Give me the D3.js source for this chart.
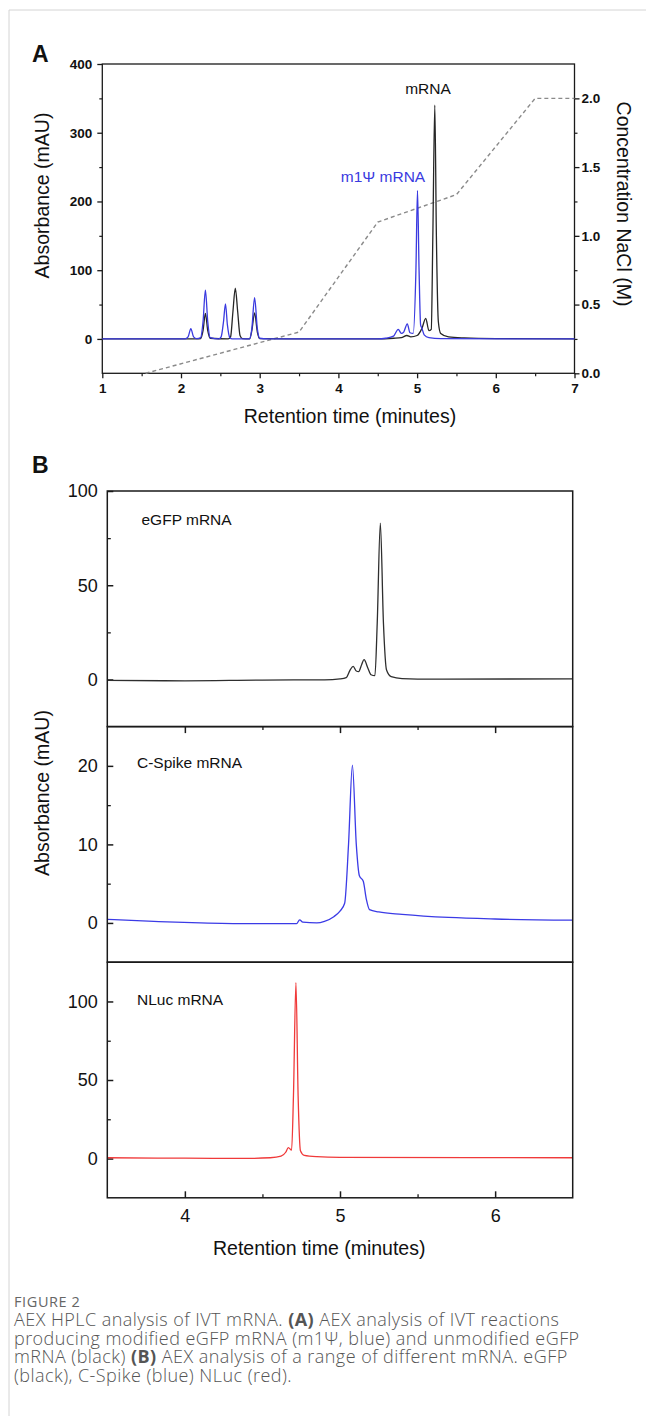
<!DOCTYPE html>
<html>
<head>
  <meta charset="utf-8" />
  <title>AEX HPLC analysis of IVT mRNA</title>
  <script src="https://cdn.jsdelivr.net/npm/d3@7"></script>
  <style>
    body { margin: 0; background: white; }
    svg { display: block; }
    .chart text { font-family: "Liberation Sans", Arial, sans-serif; fill: #111; }
    .caption text { font-family: "Open Sans", "Noto Sans", sans-serif; fill: #555; }
  </style>
</head>
<body>
  <script>
    // ---- panel A : retention time (min), absorbance (mAU) ----
    var unmodTrace = [[1,0],[2.2,0],[2.25,0.5],[2.28,12],[2.31,37],[2.34,12],[2.37,1],[2.6,0],[2.63,3],[2.66,40],[2.69,74],[2.72,40],[2.75,5],[2.78,0.5],[2.87,0],[2.9,12],[2.935,38],[2.97,10],[3.0,0.5],[3.5,0],[4.5,0],[4.7,1],[4.8,2],[4.87,5],[4.92,3],[5.0,5],[5.06,15],[5.11,30],[5.15,12],[5.18,14],[5.2,150],[5.225,340],[5.245,150],[5.27,25],[5.3,8],[5.4,3],[5.6,1.5],[6,0.5],[7,0]];
    var m1psiTrace = [[1,0],[2.05,0],[2.09,3],[2.125,15],[2.16,3],[2.2,0.5],[2.25,2],[2.28,25],[2.31,71],[2.34,25],[2.37,2],[2.48,0],[2.51,3],[2.54,25],[2.565,51],[2.59,20],[2.62,2],[2.65,0],[2.87,0],[2.9,15],[2.935,60],[2.97,15],[3.0,1],[3.1,0],[4.5,0],[4.6,1],[4.7,4],[4.76,14],[4.8,8],[4.83,10],[4.875,22],[4.91,9],[4.95,8],[4.985,100],[5.005,216],[5.025,100],[5.045,20],[5.06,16],[5.09,6],[5.15,2],[5.3,0.5],[7,0]];
    // salt gradient, NaCl (M)
    var naclGradient = [[1.55,0],[3.5,0.3],[4.5,1.1],[5.5,1.3],[6.5,2.0],[7.0,2.0]];

    var aXTicks = [1,2,3,4,5,6,7];
    var aXMinor = [1.5,2.5,3.5,4.5,5.5,6.5];
    var aYTicks = [0,100,200,300,400];
    var aYMinor = [50,150,250,350];
    var aRTicks = [0,0.5,1.0,1.5,2.0];
    var aRMinor = [0.25,0.75,1.25,1.75];

    // ---- panel B ----
    var egfpTrace = [[3.5,-0.5],[4.0,-0.7],[4.5,-0.3],[4.9,-0.2],[5.0,0.3],[5.04,1],[5.065,5],[5.085,7],[5.105,4.5],[5.12,4.2],[5.14,8],[5.155,10.5],[5.18,6],[5.2,2.5],[5.225,2],[5.24,30],[5.26,83],[5.28,30],[5.3,5],[5.33,1.5],[5.4,0.5],[5.6,0.2],[6.5,0.3]];
    var spikeTrace = [[3.5,0.45],[3.8,0.2],[4.1,0],[4.4,-0.1],[4.72,-0.1],[4.74,0.4],[4.76,0.1],[4.85,0],[4.9,0.2],[4.96,0.8],[5.0,1.5],[5.03,2.5],[5.055,10],[5.08,20.1],[5.105,10],[5.125,6],[5.15,5.3],[5.17,3],[5.19,1.7],[5.25,1.4],[5.4,1.1],[5.7,0.7],[6.0,0.5],[6.5,0.35]];
    var nlucTrace = [[3.5,0.5],[4.0,0.2],[4.4,0.1],[4.55,0.5],[4.62,1.5],[4.65,4],[4.667,7],[4.688,5.3],[4.70,40],[4.716,112],[4.73,40],[4.745,5],[4.77,2],[4.85,1.2],[5.0,0.8],[6.5,0.5]];

    var bXTicks = [4,5,6];
    var bXMinor = [4.5,5.5];
    var bPanels = [
      { name: "eGFP mRNA", data: egfpTrace, color: "#2e2e2e", domain: [-25,100], ticks: [0,50,100], minor: [25,75] },
      { name: "C-Spike mRNA", data: spikeTrace, color: "#3b3be6", domain: [-5,25], ticks: [0,10,20], minor: [5,15] },
      { name: "NLuc mRNA", data: nlucTrace, color: "#f03a3a", domain: [-25,125], ticks: [0,50,100], minor: [25,75] }
    ];

    var svg = d3.select("body").append("svg")
      .attr("width", 646).attr("height", 1416);

    // page frame
    svg.append("line").attr("x1", 9).attr("x2", 646).attr("y1", 10).attr("y2", 10).attr("stroke", "#d4d4d4");
    svg.append("line").attr("x1", 9).attr("x2", 9).attr("y1", 10).attr("y2", 1416).attr("stroke", "#d4d4d4");

    var chart = svg.append("g").attr("class", "chart");

    function styleAxis(g, w) {
      g.select(".domain").remove();
      g.selectAll(".tick line").attr("stroke", "#1a1a1a").attr("stroke-width", w);
    }

    // ================= PANEL A =================
    var xA = d3.scaleLinear().domain([1, 7]).range([102.3, 574.5]);
    var yA = d3.scaleLinear().domain([-50, 400]).range([373.3, 64]);
    var yNaCl = d3.scaleLinear().domain([0, 2.25]).range([373.3, 64]);

    var gA = chart.append("g");

    gA.append("g").attr("transform", "translate(0,373.3)")
      .call(d3.axisBottom(xA).tickValues(aXTicks).tickSize(5).tickPadding(5).tickFormat(d3.format("d")))
      .call(styleAxis, 1.3)
      .selectAll("text").attr("font-size", 13.5).attr("font-weight", "bold").attr("fill", "#222");
    gA.append("g").attr("transform", "translate(0,373.3)")
      .call(d3.axisBottom(xA).tickValues(aXMinor).tickSize(3).tickFormat(""))
      .call(styleAxis, 1.2);

    gA.append("g").attr("transform", "translate(102.3,0)")
      .call(d3.axisLeft(yA).tickValues(aYTicks).tickSize(5).tickPadding(5))
      .call(styleAxis, 1.3)
      .selectAll("text").attr("font-size", 13.5).attr("font-weight", "bold").attr("fill", "#222");
    gA.append("g").attr("transform", "translate(102.3,0)")
      .call(d3.axisLeft(yA).tickValues(aYMinor).tickSize(3).tickFormat(""))
      .call(styleAxis, 1.2);

    gA.append("g").attr("transform", "translate(574.5,0)")
      .call(d3.axisRight(yNaCl).tickValues(aRTicks).tickSize(5).tickPadding(2).tickFormat(d3.format(".1f")))
      .call(styleAxis, 1.3)
      .selectAll("text").attr("font-size", 13.5).attr("font-weight", "bold").attr("fill", "#222");
    gA.append("g").attr("transform", "translate(574.5,0)")
      .call(d3.axisRight(yNaCl).tickValues(aRMinor).tickSize(3).tickFormat(""))
      .call(styleAxis, 1.2);

    gA.append("rect")
      .attr("x", xA(1)).attr("y", yA(400))
      .attr("width", xA(7) - xA(1)).attr("height", yA(-50) - yA(400))
      .attr("fill", "none").attr("stroke", "#1a1a1a").attr("stroke-width", 1.3);

    var gradLine = d3.line().x(function(d) { return xA(d[0]); }).y(function(d) { return yNaCl(d[1]); });
    gA.append("path").datum(naclGradient)
      .attr("d", gradLine)
      .attr("fill", "none").attr("stroke", "#8a8a8a").attr("stroke-width", 1.4)
      .attr("stroke-dasharray", "4,3");

    var traceA = d3.line().x(function(d) { return xA(d[0]); }).y(function(d) { return yA(d[1]); })
      .curve(d3.curveMonotoneX);
    gA.append("path").datum(unmodTrace).attr("d", traceA)
      .attr("fill", "none").attr("stroke", "#262626").attr("stroke-width", 1.3);
    gA.append("path").datum(m1psiTrace).attr("d", traceA)
      .attr("fill", "none").attr("stroke", "#3a3ae0").attr("stroke-width", 1.3);

    gA.append("text").attr("x", 428).attr("y", 94).attr("text-anchor", "middle")
      .attr("font-size", 15.5).text("mRNA");
    gA.append("text").attr("x", 383).attr("y", 181.5).attr("text-anchor", "middle")
      .attr("font-size", 15.5).style("fill", "#3a3ae0").text("m1\u03A8 mRNA");

    gA.append("text").attr("x", 32).attr("y", 61.5)
      .attr("font-size", 23).attr("font-weight", "bold").text("A");
    gA.append("text").attr("transform", "translate(49,195.5) rotate(-90)")
      .attr("text-anchor", "middle").attr("font-size", 19.5).text("Absorbance (mAU)");
    gA.append("text").attr("transform", "translate(617,204) rotate(90)")
      .attr("text-anchor", "middle").attr("font-size", 19.5).text("Concentration NaCl (M)");
    gA.append("text").attr("x", 350).attr("y", 423)
      .attr("text-anchor", "middle").attr("font-size", 19.5).text("Retention time (minutes)");

    // ================= PANEL B =================
    var xB = d3.scaleLinear().domain([3.5, 6.5]).range([107.3, 572.7]);
    var bTop = 491, bH = 235.6;
    var gB = chart.append("g");

    bPanels.forEach(function(p, i) {
      var top = bTop + i * bH;
      var y = d3.scaleLinear().domain(p.domain).range([top + bH, top]);
      var g = gB.append("g");

      g.append("g").attr("transform", "translate(107.3,0)")
        .call(d3.axisLeft(y).tickValues(p.ticks).tickSize(-6).tickPadding(9.5))
        .call(styleAxis, 1.5)
        .selectAll("text").attr("font-size", 18).attr("fill", "#111");
      g.append("g").attr("transform", "translate(107.3,0)")
        .call(d3.axisLeft(y).tickValues(p.minor).tickSize(-3.5).tickFormat(""))
        .call(styleAxis, 1.3);

      var line = d3.line().x(function(d) { return xB(d[0]); }).y(function(d) { return y(d[1]); })
        .curve(d3.curveMonotoneX);
      g.append("path").datum(p.data).attr("d", line)
        .attr("fill", "none").attr("stroke", p.color).attr("stroke-width", 1.3);

      g.append("rect").attr("x", xB(3.5)).attr("y", top)
        .attr("width", xB(6.5) - xB(3.5)).attr("height", bH)
        .attr("fill", "none").attr("stroke", "#1a1a1a").attr("stroke-width", 1.5);

      g.append("text").attr("x", [141.5, 137, 137][i]).attr("y", top + [34, 41.5, 42.5][i])
        .attr("font-size", 15.5).attr("fill", "#222").text(p.name);
    });

    // x ticks under the first panel, pointing down
    gB.append("g").attr("transform", "translate(0," + (bTop + bH) + ")")
      .call(d3.axisTop(xB).tickValues(bXTicks).tickSize(-6.5).tickFormat(""))
      .call(styleAxis, 1.5);
    gB.append("g").attr("transform", "translate(0," + (bTop + bH) + ")")
      .call(d3.axisTop(xB).tickValues(bXMinor).tickSize(-3.5).tickFormat(""))
      .call(styleAxis, 1.3);

    // bottom axis, ticks inward
    var bBottom = bTop + 3 * bH;
    gB.append("g").attr("transform", "translate(0," + bBottom + ")")
      .call(d3.axisBottom(xB).tickValues(bXTicks).tickSize(-6.5).tickPadding(11).tickFormat(d3.format("d")))
      .call(styleAxis, 1.5)
      .selectAll("text").attr("font-size", 18).attr("fill", "#111");
    gB.append("g").attr("transform", "translate(0," + bBottom + ")")
      .call(d3.axisBottom(xB).tickValues(bXMinor).tickSize(-3.5).tickFormat(""))
      .call(styleAxis, 1.3);

    gB.append("text").attr("x", 32).attr("y", 473)
      .attr("font-size", 23).attr("font-weight", "bold").text("B");
    gB.append("text").attr("transform", "translate(49,793) rotate(-90)")
      .attr("text-anchor", "middle").attr("font-size", 19.5).text("Absorbance (mAU)");
    gB.append("text").attr("x", 213).attr("y", 1255)
      .attr("font-size", 19.5).text("Retention time (minutes)");

    // ================= CAPTION =================
    var cap = svg.append("g").attr("class", "caption");
    cap.append("text").attr("x", 14).attr("y", 1307).attr("font-size", 14.5)
      .attr("letter-spacing", 0.6).style("fill", "#666").text("FIGURE 2");

    var capLines = [
      [["AEX HPLC analysis of IVT mRNA. ", 0], ["(A)", 1], [" AEX analysis of IVT reactions", 0]],
      [["producing modified eGFP mRNA (m1\u03A8, blue) and unmodified eGFP", 0]],
      [["mRNA (black) ", 0], ["(B)", 1], [" AEX analysis of a range of different mRNA. eGFP", 0]],
      [["(black), C-Spike (blue) NLuc (red).", 0]]
    ];
    capLines.forEach(function(parts, i) {
      var t = cap.append("text").attr("x", 14).attr("y", 1326 + i * 18.5)
        .attr("font-size", 18).attr("font-weight", 300).attr("letter-spacing", 0.45);
      parts.forEach(function(pt) {
        t.append("tspan").attr("font-weight", pt[1] ? 700 : 300).text(pt[0]);
      });
    });
  </script>
</body>
</html>
